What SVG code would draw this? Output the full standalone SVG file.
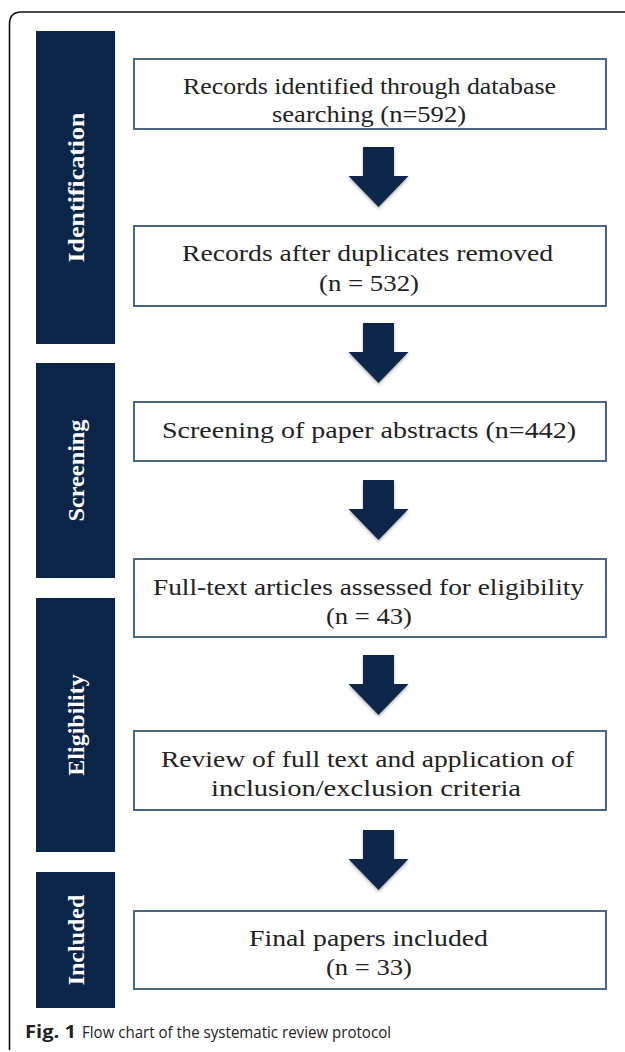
<svg xmlns="http://www.w3.org/2000/svg" width="625" height="1052" viewBox="0 0 625 1052">
<defs>
<style>
.bar{fill:#0b2548;}
.bt{fill:#ffffff;font-family:"Liberation Serif","DejaVu Serif",serif;font-weight:bold;font-size:24px;text-anchor:middle;}
.box{fill:#ffffff;stroke:#4a6585;stroke-width:2;}
.tx{fill:#222222;font-family:"Liberation Serif","DejaVu Serif",serif;font-size:24px;text-anchor:middle;}
.arr{fill:#0b2548;}
.cap{font-family:"Open Sans","Liberation Sans",sans-serif;font-size:17px;fill:#222222;}
</style>
<filter id="sh" x="-20%" y="-20%" width="140%" height="150%">
<feDropShadow dx="0" dy="2" stdDeviation="1.5" flood-color="#000000" flood-opacity="0.3"/>
</filter>
<path id="arrow" d="M-15.5,0 H15.5 V29 H30 L0,60 L-30,29 H-15.5 Z"/>
</defs>
<rect width="625" height="1052" fill="#ffffff"/>
<path d="M9.5,1050 V24 Q9.5,12 21.5,12 H625" fill="none" stroke="#111111" stroke-width="1.6"/>

<g id="phase-identification">
<rect class="bar" x="36" y="31" width="79" height="313"/>
<text class="bt" transform="translate(84,187.5) rotate(-90)" textLength="150" lengthAdjust="spacingAndGlyphs">Identification</text>
</g>
<g id="phase-screening">
<rect class="bar" x="36" y="363" width="79" height="215"/>
<text class="bt" transform="translate(84,470.5) rotate(-90)" textLength="102" lengthAdjust="spacingAndGlyphs">Screening</text>
</g>
<g id="phase-eligibility">
<rect class="bar" x="36" y="598" width="79" height="254"/>
<text class="bt" transform="translate(84,725) rotate(-90)">Eligibility</text>
</g>
<g id="phase-included">
<rect class="bar" x="36" y="872" width="79" height="136"/>
<text class="bt" transform="translate(84,940) rotate(-90)">Included</text>
</g>

<g id="box1">
<rect class="box" x="134" y="59" width="472" height="70"/>
<text class="tx" x="369.5" y="94" textLength="373" lengthAdjust="spacingAndGlyphs">Records identified through database</text>
<text class="tx" x="369" y="122" textLength="194" lengthAdjust="spacingAndGlyphs">searching (n=592)</text>
</g>
<g id="box2">
<rect class="box" x="134" y="226" width="472" height="80"/>
<text class="tx" x="367.5" y="261" textLength="371" lengthAdjust="spacingAndGlyphs">Records after duplicates removed</text>
<text class="tx" x="369" y="291" textLength="100" lengthAdjust="spacingAndGlyphs">(n = 532)</text>
</g>
<g id="box3">
<rect class="box" x="134" y="402" width="472" height="59"/>
<text class="tx" x="369" y="438" textLength="414" lengthAdjust="spacingAndGlyphs">Screening of paper abstracts (n=442)</text>
</g>
<g id="box4">
<rect class="box" x="134" y="559" width="472" height="78"/>
<text class="tx" x="368.5" y="595" textLength="431" lengthAdjust="spacingAndGlyphs">Full-text articles assessed for eligibility</text>
<text class="tx" x="369" y="624" textLength="86" lengthAdjust="spacingAndGlyphs">(n = 43)</text>
</g>
<g id="box5">
<rect class="box" x="134" y="731" width="472" height="79"/>
<text class="tx" x="367.5" y="767" textLength="413" lengthAdjust="spacingAndGlyphs">Review of full text and application of</text>
<text class="tx" x="366" y="796" textLength="310" lengthAdjust="spacingAndGlyphs">inclusion/exclusion criteria</text>
</g>
<g id="box6">
<rect class="box" x="134" y="911" width="472" height="78"/>
<text class="tx" x="368.5" y="946" textLength="239" lengthAdjust="spacingAndGlyphs">Final papers included</text>
<text class="tx" x="369" y="975" textLength="86" lengthAdjust="spacingAndGlyphs">(n = 33)</text>
</g>

<g id="connectors" filter="url(#sh)">
<use href="#arrow" class="arr" x="378.5" y="147"/>
<use href="#arrow" class="arr" x="378.5" y="323"/>
<use href="#arrow" class="arr" x="378.5" y="480"/>
<use href="#arrow" class="arr" x="378.5" y="655"/>
<use href="#arrow" class="arr" x="378.5" y="830"/>
</g>

<g id="caption">
<text class="cap" x="25" y="1038" font-weight="bold" font-size="18" textLength="51" lengthAdjust="spacingAndGlyphs">Fig. 1</text>
<text class="cap" x="82" y="1038" textLength="309" lengthAdjust="spacingAndGlyphs">Flow chart of the systematic review protocol</text>
</g>
</svg>
